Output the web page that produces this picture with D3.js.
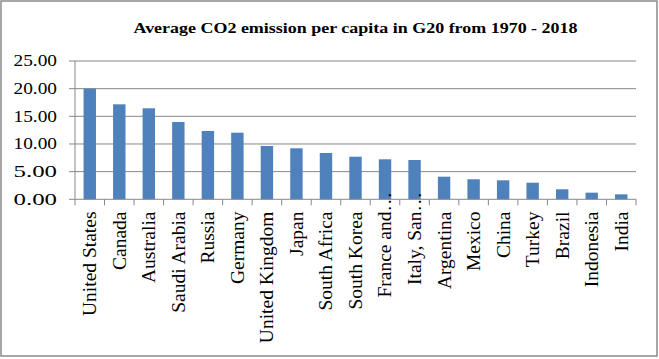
<!DOCTYPE html>
<html>
<head>
<meta charset="utf-8">
<script src="https://cdn.jsdelivr.net/npm/d3@7"></script>
<style>
body{margin:0;background:#fff;}
svg text{font-family:"Liberation Serif","Times New Roman",serif;fill:#000;}
</style>
</head>
<body>
<div id="chart"></div>
<script>
//chart data
var countries=["United States","Canada","Australia","Saudi Arabia","Russia","Germany","United Kingdom","Japan","South Africa","South Korea","France and\u2026","Italy, San\u2026","Argentina","Mexico","China","Turkey","Brazil","Indonesia","India"];
var emissions=[20.0,17.17,16.45,13.97,12.35,12.04,9.64,9.22,8.37,7.7,7.23,7.1,4.09,3.62,3.43,3.0,1.81,1.2,0.9];
var yTicks=[0,5,10,15,20,25];
var title="Average CO2 emission per capita in G20 from 1970 - 2018";

var width=659,height=359;
var plotLeft=75,plotRight=636,plotTop=61,plotBottom=199.3;//plot area

var svg=d3.select("#chart").append("svg")
	.attr("width",width)
	.attr("height",height);
svg.append("rect")//outer border
	.attr("x",1).attr("y",1)
	.attr("width",656).attr("height",355)
	.attr("fill","#fff")
	.attr("stroke","#8a8a8a")
	.attr("stroke-width",1.5);

var x=d3.scaleBand()
	.domain(countries)
	.range([plotLeft,plotRight])
	.paddingInner(0.58)
	.paddingOuter(0.29);
var y=d3.scaleLinear()
	.domain([0,25])
	.range([plotBottom,plotTop]);

//gridlines
svg.append("g").selectAll("line")
	.data(yTicks.filter(function(d){return d>0}))
	.enter().append("line")
	.attr("x1",plotLeft).attr("x2",plotRight)
	.attr("y1",function(d){return y(d)}).attr("y2",function(d){return y(d)})
	.attr("stroke","#878787").attr("stroke-width",1);

//bars
svg.append("g").selectAll("rect")
	.data(emissions)
	.enter().append("rect")
	.attr("x",function(d,i){return x(countries[i])})
	.attr("width",x.bandwidth())
	.attr("y",function(d){return y(d)})
	.attr("height",function(d){return y(0)-y(d)})
	.attr("fill","#4f81bd");

//y axis
var yAxis=svg.append("g");
yAxis.append("line")
	.attr("x1",plotLeft).attr("x2",plotLeft)
	.attr("y1",plotTop).attr("y2",plotBottom)
	.attr("stroke","#878787");
yAxis.selectAll("line.tick")
	.data(yTicks)
	.enter().append("line")
	.attr("class","tick")
	.attr("x1",plotLeft-6).attr("x2",plotLeft)
	.attr("y1",function(d){return y(d)}).attr("y2",function(d){return y(d)})
	.attr("stroke","#878787");
yAxis.selectAll("text")
	.data(yTicks)
	.enter().append("text")
	.attr("x",57)
	.attr("y",function(d){return y(d)+5.4})
	.attr("text-anchor","end")
	.attr("font-size","16px")
	.attr("textLength",43.5)
	.attr("lengthAdjust","spacingAndGlyphs")
	.text(function(d){return d3.format(".2f")(d)});

//x axis
var xAxis=svg.append("g");
xAxis.append("line")
	.attr("x1",plotLeft).attr("x2",plotRight)
	.attr("y1",plotBottom).attr("y2",plotBottom)
	.attr("stroke","#878787");
var step=x.step();
xAxis.selectAll("line.tick")
	.data(d3.range(countries.length+1))
	.enter().append("line")
	.attr("class","tick")
	.attr("x1",function(i){return plotLeft+i*step}).attr("x2",function(i){return plotLeft+i*step})
	.attr("y1",plotBottom).attr("y2",plotBottom+6)
	.attr("stroke","#878787");
var lbl=xAxis.selectAll("g.lbl")
	.data(countries)
	.enter().append("g")
	.attr("class","lbl")
	.attr("transform",function(d){return "translate("+(x(d)+x.bandwidth()/2)+",211.5) rotate(-90)"});
lbl.append("text")//label text ends under the axis
	.attr("text-anchor","end")
	.attr("dy","0.33em")
	.attr("font-size","19.5px")
	.text(function(d){return d.replace("\u2026","")});
lbl.filter(function(d){return d.indexOf("\u2026")>=0})
	.append("text")//truncated labels spill their ellipsis over the axis
	.attr("text-anchor","start")
	.attr("dy","0.33em")
	.attr("font-size","19.5px")
	.text("\u2026");

//title
svg.append("text")
	.attr("x",(plotLeft+plotRight)/2)
	.attr("y",33)
	.attr("text-anchor","middle")
	.attr("font-weight","bold")
	.attr("font-size","15.5px")
	.attr("textLength",444)
	.attr("lengthAdjust","spacingAndGlyphs")
	.text(title);
</script>
</body>
</html>
